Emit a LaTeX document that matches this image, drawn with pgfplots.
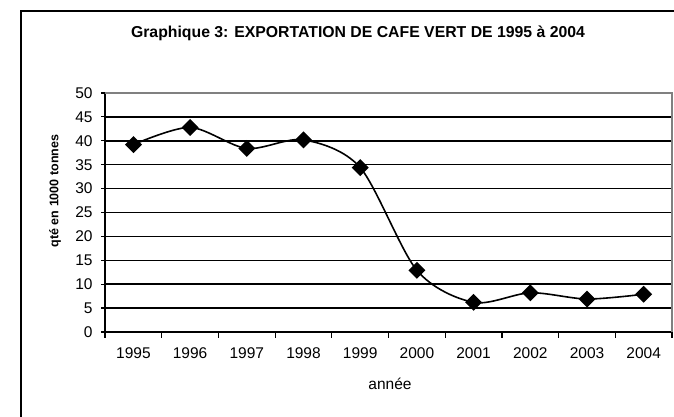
\documentclass[border=0pt]{standalone}
\usepackage{pgfplots}
\pgfplotsset{compat=1.18}
\usepackage{fontspec}
\setmainfont{Liberation Sans}
\begin{document}
\begin{tikzpicture}[x=1pt,y=1pt]
\useasboundingbox (0,0) rectangle (674,417);
\clip (0,0) rectangle (674,417);
\fill[white] (0,0) rectangle (674,417);
\draw[line width=1.6pt] (21,-20) -- (21,406) -- (700,406);
\node[font=\bfseries\fontsize{15.8}{18}\selectfont] at (358,384) {Graphique 3: EXPORTATION DE CAFE VERT DE 1995 à 2004};
\node[font=\fontsize{15.5}{18}\selectfont] at (390,33) {année};
\node[font=\bfseries\fontsize{12.5}{15}\selectfont, rotate=90] at (55,226) {qté en 1000 tonnes};
\begin{axis}[
  at={(133.4pt,85pt)}, anchor=origin,
  scale only axis, width=567pt, height=239pt,
  xmin=-0.5, xmax=9.5, ymin=0, ymax=50,
  axis lines*=left,
  axis line style={line width=1.4pt, black},
  xtick={0,...,9},
  xticklabels={1995,1996,1997,1998,1999,2000,2001,2002,2003,2004},
  minor xtick={-0.5,0.5,...,9.5},
  ytick={0,5,...,50},
  major x tick style={draw=none},
  minor x tick style={line width=1.2pt, black},
  minor tick length=6pt,
  xtick align=outside,
  ytick align=center,
  major y tick style={line width=1.2pt, black},
  major tick length=8pt,
  ymajorgrids,
  major grid style={line width=1.5pt, black},
  tick label style={font=\fontsize{15.5}{18}\selectfont},
  /pgf/number format/assume math mode=true,
  xticklabel style={yshift=-4pt},
  yticklabel style={xshift=-5pt},
  clip=false,
]
\addplot[black, line width=1.6pt, smooth, tension=0.5, mark=square*, mark size=5.2pt, mark options={rotate=45, solid, fill=black}]
coordinates {(0,39.2) (1,42.8) (2,38.4) (3,40.2) (4,34.4) (5,12.9) (6,6.2) (7,8.2) (8,6.9) (9,7.9)};
\draw[gray, line width=1.4pt] (axis cs:-0.5,50) -- (axis cs:9.5,50) -- (axis cs:9.5,0);
\end{axis}
\end{tikzpicture}
\end{document}
